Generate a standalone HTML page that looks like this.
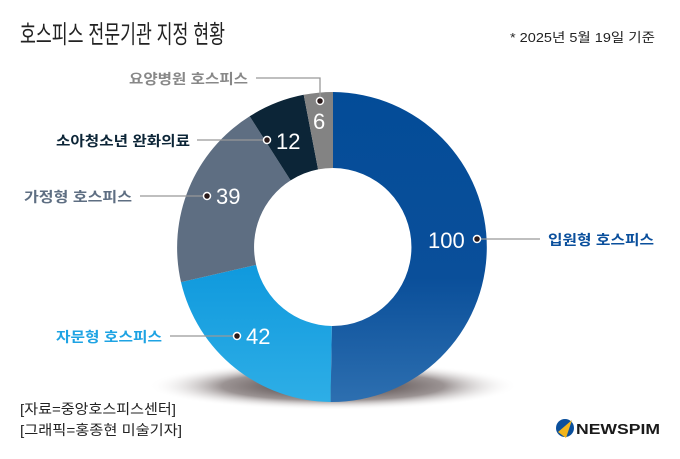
<!DOCTYPE html>
<html><head><meta charset="utf-8"><style>
html,body{margin:0;padding:0;background:#fff;}
svg{display:block;font-family:"Liberation Sans","Noto Sans CJK KR",sans-serif;}
</style></head><body>
<svg width="680" height="459" viewBox="0 0 680 459" xmlns="http://www.w3.org/2000/svg">
<defs>
<radialGradient id="sh" cx="50%" cy="50%" r="50%">
<stop offset="0" stop-color="#2a1e1e" stop-opacity="0.95"/>
<stop offset="0.6" stop-color="#4a3c3c" stop-opacity="0.55"/>
<stop offset="1" stop-color="#fff" stop-opacity="0"/>
</radialGradient>
<linearGradient id="gb" x1="0" y1="0" x2="0" y2="1">
<stop offset="0" stop-color="#034c98"/><stop offset="0.6" stop-color="#0a4f9a"/><stop offset="1" stop-color="#2d6fb0"/>
</linearGradient>
<linearGradient id="gl" x1="0" y1="0" x2="0" y2="1">
<stop offset="0" stop-color="#0f99dd"/><stop offset="1" stop-color="#2eaee6"/>
</linearGradient>
</defs>
<text x="20" y="43" font-size="25" fill="#222" textLength="205" lengthAdjust="spacingAndGlyphs">호스피스 전문기관 지정 현황</text>
<text x="510" y="42" font-size="13" fill="#222" textLength="145" lengthAdjust="spacingAndGlyphs">* 2025년 5월 19일 기준</text>
<ellipse cx="333" cy="386" rx="185" ry="24" fill="url(#sh)"/>
<path d="M333 92 A155 155 0 1 1 330.6 402 L331.8 326 A79 79 0 1 0 333 168 Z" fill="url(#gb)"/>
<path d="M330.6 402 A155 155 0 0 1 181 282.1 L256.1 264.9 A79 79 0 0 0 331.8 326 Z" fill="url(#gl)"/>
<path d="M181 282.1 A155 155 0 0 1 249.7 116.3 L290.6 180.4 A79 79 0 0 0 256.1 264.9 Z" fill="#5e6e82"/>
<path d="M249.7 116.3 A155 155 0 0 1 303.7 94.8 L318.1 169.4 A79 79 0 0 0 290.6 180.4 Z" fill="#0c2537"/>
<path d="M303.7 94.8 A155 155 0 0 1 333 92 L333 168 A79 79 0 0 0 318.1 169.4 Z" fill="#838383"/>
<g fill="#fff" font-size="22">
<text x="428" y="248">100</text>
<text x="246" y="344">42</text>
<text x="216" y="204">39</text>
<text x="276" y="149">12</text>
<text x="313" y="129">6</text>
</g>
<g stroke="#999" stroke-width="1.3" fill="none">
<line x1="477" y1="239" x2="540" y2="239"/>
<line x1="237" y1="336" x2="170" y2="336"/>
<line x1="207" y1="196" x2="140" y2="196"/>
<line x1="267" y1="140" x2="197" y2="140"/>
<polyline points="320,101 320,78 256,78"/>
</g>
<g fill="#2a1a1a" stroke="#fff" stroke-width="1.5">
<circle cx="477" cy="239" r="3.5"/><circle cx="237" cy="336" r="3.5"/><circle cx="207" cy="196" r="3.5"/><circle cx="267" cy="140" r="3.5"/><circle cx="320" cy="101" r="3.5"/>
</g>
<g font-size="14" font-weight="bold">
<text x="548" y="245" fill="#0a4f9c" textLength="106" lengthAdjust="spacingAndGlyphs">입원형 호스피스</text>
<text x="56" y="342" fill="#1ea3e3" textLength="106" lengthAdjust="spacingAndGlyphs">자문형 호스피스</text>
<text x="24" y="202" fill="#5e6e82" textLength="108" lengthAdjust="spacingAndGlyphs">가정형 호스피스</text>
<text x="56" y="146" fill="#0c2537" textLength="134" lengthAdjust="spacingAndGlyphs">소아청소년 완화의료</text>
<text x="129" y="84" fill="#888" textLength="119" lengthAdjust="spacingAndGlyphs">요양병원 호스피스</text>
</g>
<text x="20" y="414" font-size="14" fill="#222" textLength="156" lengthAdjust="spacingAndGlyphs">[자료=중앙호스피스센터]</text>
<text x="20" y="435" font-size="14" fill="#222" textLength="162" lengthAdjust="spacingAndGlyphs">[그래픽=홍종현 미술기자]</text>
<circle cx="565" cy="428" r="9" fill="#0a4f9c"/>
<path d="M558 432 L572 420 L566 438 Z" fill="#f2b51c"/>
<text x="576" y="434" font-size="15" font-weight="bold" fill="#1a1a1a" textLength="84" lengthAdjust="spacingAndGlyphs">NEWSPIM</text>
</svg>
</body></html>
